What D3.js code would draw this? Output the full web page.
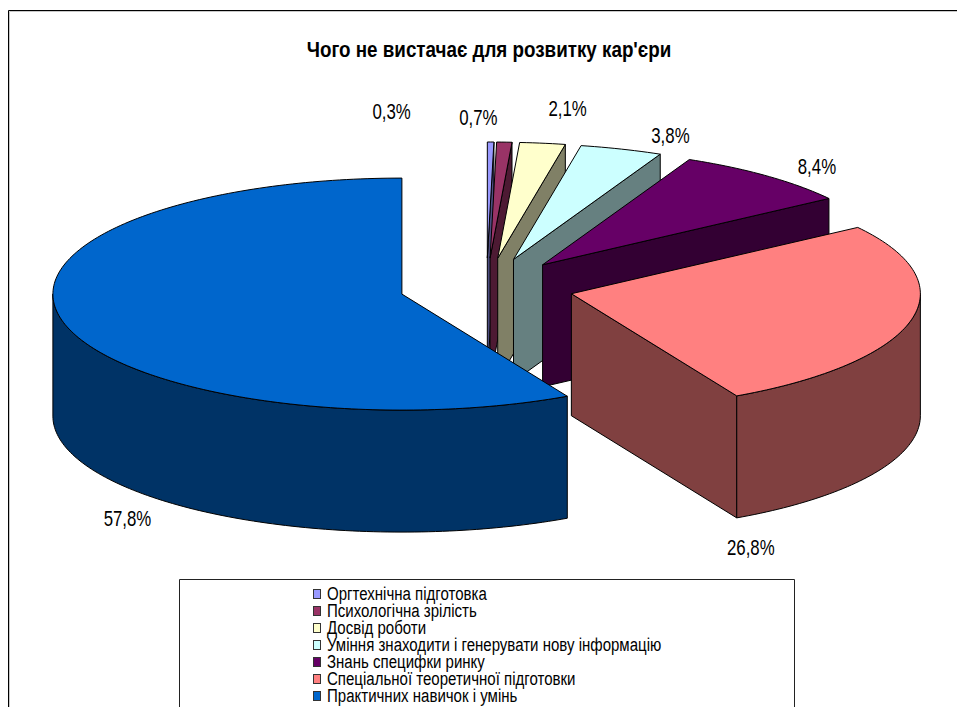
<!DOCTYPE html>
<html>
<head>
<meta charset="utf-8">
<script src="https://cdn.jsdelivr.net/npm/d3@7"></script>
<style>
  html, body { margin: 0; padding: 0; background: #fff; overflow: hidden; }
  text { font-family: "Liberation Sans", Arial, sans-serif; fill: #000; }
</style>
</head>
<body>
<div id="chart"></div>
<script>
const title = "Чого не вистачає для розвитку кар'єри";
const categories = [
    "Оргтехнічна підготовка",
    "Психологічна зрілість",
    "Досвід роботи",
    "Уміння знаходити і генерувати нову інформацію",
    "Знань специфки ринку",
    "Спеціальної теоретичної підготовки",
    "Практичних навичок і умінь"
];
const shares = [0.3, 0.7, 2.1, 3.8, 8.4, 26.8, 57.8];
const topColors = ["#9999ff", "#993366", "#ffffcc", "#ccffff", "#660066", "#ff8080", "#0066cc"];
// where each percent label sits relative to its slice's rim point
const labelShift = [[-99, -23], [-26, -17], [25, -27], [49, -6], [50, -2], [-160, 234], [64, 204]];

const width = 957, height = 707;
const cx = 486.5, cy = 287;      // centre of the un-exploded pie
const rx = 349, ry = 116;        // top ellipse
const depth = 122;
const explode = 0.25;            // share of the radius

const svg = d3.select("#chart").append("svg")
    .attr("width", width)
    .attr("height", height)
    .attr("viewBox", `0 0 ${width} ${height}`);

// the source text is squeezed sideways, so every label gets a horizontal scale
function squeezedText(parent, x, y, size, squeeze, str) {
    return parent.append("text")
        .attr("transform", `translate(${x},${y}) scale(${squeeze},1)`)
        .attr("font-size", size)
        .text(str);
}

// chart frame: left and top only, cut off by the window
svg.append("path")
    .attr("d", `M9.5,${height}V11.5H${width}`)
    .attr("fill", "none")
    .attr("stroke", "#c8c8c8");
svg.append("path")
    .attr("d", `M8.5,${height}V10.5H${width}`)
    .attr("fill", "none")
    .attr("stroke", "#000");

squeezedText(svg, 489, 57, 22, 0.855, title)
    .attr("text-anchor", "middle")
    .attr("font-weight", "bold");

const pieLayout = d3.pie().sort(null).startAngle(0).endAngle(2 * Math.PI);
const slices = pieLayout(shares);

// ellipse point for a clockwise-from-top angle, radius in 0..1
function project(angle, r = 1) {
    return [rx * r * Math.sin(angle), -ry * r * Math.cos(angle)];
}

const line = d3.line();

function sweep(a0, a1) {
    const steps = Math.max(2, Math.ceil((a1 - a0) / 0.02));
    return d3.range(steps + 1).map(i => project(a0 + (a1 - a0) * i / steps));
}

function drawSlice(d, i) {
    const mid = (d.startAngle + d.endAngle) / 2;
    const [ox, oy] = project(mid, explode);
    const g = svg.append("g")
        .attr("transform", `translate(${cx + ox},${cy + oy})`);
    const base = d3.rgb(topColors[i]);
    const sideColor = d3.rgb(base.r / 2, base.g / 2, base.b / 2);

    // cut wall on the clockwise edge, only when it faces the viewer
    if (Math.sin(d.endAngle) > 0.001) {
        const p = project(d.endAngle);
        g.append("path")
            .attr("d", line([[0, 0], p, [p[0], p[1] + depth], [0, depth]]) + "Z")
            .attr("fill", sideColor)
            .attr("stroke", "#000");
    }

    // outer wall, the front half of the ellipse only
    const a0 = Math.max(d.startAngle, Math.PI / 2);
    const a1 = Math.min(d.endAngle, 3 * Math.PI / 2);
    if (a1 > a0) {
        const rim = sweep(a0, a1);
        const lower = rim.map(p => [p[0], p[1] + depth]).reverse();
        g.append("path")
            .attr("d", line(rim.concat(lower)) + "Z")
            .attr("fill", sideColor)
            .attr("stroke", "#000");
    }

    // top face
    g.append("path")
        .attr("d", line([[0, 0]].concat(sweep(d.startAngle, d.endAngle))) + "Z")
        .attr("fill", topColors[i])
        .attr("stroke", "#000");
}

slices.forEach(drawSlice);

// percent labels go on last so no slice covers them
slices.forEach((d, i) => {
    const mid = (d.startAngle + d.endAngle) / 2;
    const [ox, oy] = project(mid, explode);
    const rimMid = project(mid);
    squeezedText(svg,
        cx + ox + rimMid[0] + labelShift[i][0],
        cy + oy + rimMid[1] + labelShift[i][1],
        22, 0.765, String(shares[i]).replace(".", ",") + "%")
        .attr("text-anchor", "middle");
});

// legend
const legend = svg.append("g");
legend.append("path")
    .attr("d", `M179.5,${height}V579.5H794.5V${height}`)
    .attr("fill", "#fff")
    .attr("stroke", "#222");

const rowY = d3.scalePoint().domain(d3.range(categories.length)).range([594, 696]);

categories.forEach((name, i) => {
    legend.append("rect")
        .attr("x", 313.5)
        .attr("y", rowY(i) - 4.5)
        .attr("width", 7)
        .attr("height", 9)
        .attr("fill", topColors[i])
        .attr("stroke", "#333");
    squeezedText(legend, 327, rowY(i) + 6, 18, 0.835, name);
});
</script>
</body>
</html>
